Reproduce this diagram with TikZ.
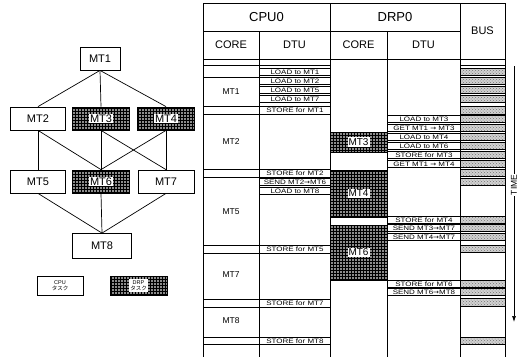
\documentclass[tikz,border=0pt]{standalone}
\usepackage{fontspec}
\setmainfont{Liberation Sans}
\newfontfamily\widefont[FakeStretch=1.25]{Liberation Sans}
\newfontfamily\arrowfont[FakeStretch=1.1]{DejaVu Sans}
\newfontfamily\jpfont{Noto Sans CJK JP}
\newcommand{\arr}{{\arrowfont →}}
\usetikzlibrary{patterns,arrows.meta}
\tikzset{
  gbox/.style={draw, line width=0.8pt, minimum height=23pt, inner sep=0pt, font=\fontsize{11}{11}\selectfont},
  cpun/.style={gbox, fill=white},
  drpn/.style={gbox, preaction={fill=black!45}, pattern=grid, pattern color=black},
  wlabel/.style={fill=white, inner sep=1pt},
  edge/.style={line width=0.7pt},
  tline/.style={line width=0.6pt},
  hdrA/.style={font=\fontsize{13}{13}\selectfont},
  hdrB/.style={font=\fontsize{11}{11}\selectfont},
  tasklbl/.style={font=\fontsize{8.5}{8.5}\selectfont},
  dtubox/.style={draw, line width=0.9pt, fill=white, inner sep=0pt, anchor=north west, minimum height=7pt, font=\widefont\fontsize{6.4}{6.4}\selectfont},
  cpud/.style={dtubox, minimum width=71pt},
  drpd/.style={dtubox, minimum width=73pt},
  stripc/.style={draw, line width=0.9pt},
  dblock/.style={draw, line width=0.6pt, preaction={fill=black!45}, pattern=grid, pattern color=black},
  busbar/.style={draw, line width=0.9pt, preaction={fill=black!18}, pattern=crosshatch dots, pattern color=black!55},
}
\begin{document}
\begin{tikzpicture}[x=1pt,y=-1pt]
\useasboundingbox (0,0) rectangle (520,357);
% ---------- task graph ----------
\node[cpun, minimum width=40pt] (MT1) at (100,58.5) {MT1};
\node[cpun, minimum width=55pt] (MT2) at (38,118.5) {MT2};
\node[drpn, minimum width=57pt] (MT3) at (101,118.5) {};
\node[wlabel, font=\fontsize{11}{11}\selectfont] (MT3t) at (MT3) {MT3};
\node[drpn, minimum width=57pt] (MT4) at (166,118.5) {};
\node[wlabel, font=\fontsize{11}{11}\selectfont] (MT4t) at (MT4) {MT4};
\node[cpun, minimum width=55pt] (MT5) at (38,181.5) {MT5};
\node[drpn, minimum width=57pt] (MT6) at (101,181.5) {};
\node[wlabel, font=\fontsize{11}{11}\selectfont] (MT6t) at (MT6) {MT6};
\node[cpun, minimum width=56pt] (MT7) at (166,181.5) {MT7};
\node[cpun, minimum width=59pt, minimum height=25pt] (MT8) at (102,246) {MT8};
\draw[edge] (MT1.south) -- (MT2.north);
\draw[edge] (MT1.south) -- (MT3.north);
\draw[edge] (MT1.south) -- (MT4.north);
\draw[edge] (MT2.south) -- (MT5.north);
\draw[edge] (MT2.south) -- (MT6.north);
\draw[edge] (MT3.south) -- (MT6.north);
\draw[edge] (MT3.south) -- (MT7.north);
\draw[edge] (MT4.south) -- (MT6.north);
\draw[edge] (MT4.south) -- (MT7.north);
\draw[edge] (MT5.south) -- (MT8.north);
\draw[edge] (MT6.south) -- (MT8.north);
\draw[edge] (MT7.south) -- (MT8.north);
% legend
\node[cpun, minimum width=46pt, minimum height=19pt, align=center, font=\fontsize{5.5}{6.5}\selectfont] (legc) at (60,285.5) {CPU\\{\jpfont タスク}};
\node[drpn, minimum width=57pt, minimum height=19pt] (legd) at (138.5,285.5) {};
\node[wlabel, align=center, font=\fontsize{5.5}{6.5}\selectfont] (legdt) at (legd) {DRP\\{\jpfont タスク}};
% ---------- time chart ----------
\draw[tline] (203,3) -- (505,3);
\draw[tline] (203,31) -- (460,31);
\draw[tline] (203,59) -- (505,59);
\draw[tline] (203,3) -- (203,357);
\draw[tline] (330,3) -- (330,357);
\draw[tline] (460,3) -- (460,357);
\draw[tline] (505,3) -- (505,357);
\draw[tline] (259,31) -- (259,357);
\draw[tline] (387,31) -- (387,357);
\node[hdrA] (cpu0) at (266.5,17) {CPU0};
\node[hdrA] (drp0) at (395,17) {DRP0};
\node[hdrB] (core1) at (231,45) {CORE};
\node[hdrB] (dtu1) at (294.5,45) {DTU};
\node[hdrB] (core2) at (358.5,45) {CORE};
\node[hdrB] (dtu2) at (423.5,45) {DTU};
\node[hdrB] (bus) at (482.5,31) {BUS};
% CPU0 core
\draw[tline] (203,65) -- (330,65);
\draw[tline] (460,65) -- (505,65);
\draw[stripc] (203,77) -- (259,77);
\draw[stripc] (203,106) rectangle (259,114);
\draw[stripc] (203,169) rectangle (259,177);
\draw[stripc] (203,245) rectangle (259,253);
\draw[stripc] (203,299) rectangle (259,307);
\draw[stripc] (203,337) rectangle (259,344);
\node[tasklbl] (c1) at (231,91.5) {MT1};
\node[tasklbl] (c2) at (231,142) {MT2};
\node[tasklbl] (c5) at (231,211.5) {MT5};
\node[tasklbl] (c7) at (231,275) {MT7};
\node[tasklbl] (c8) at (231,321) {MT8};
% CPU0 DTU
\node[cpud] (a1) at (259,68) {LOAD to MT1};
\node[cpud] (a2) at (259,77) {LOAD to MT2};
\node[cpud] (a3) at (259,86) {LOAD to MT5};
\node[cpud] (a4) at (259,95) {LOAD to MT7};
\node[cpud, minimum height=8pt] (a5) at (259,106) {STORE for MT1};
\node[cpud, minimum height=8pt] (a6) at (259,169) {STORE for MT2};
\node[cpud] (a7) at (259,178) {SEND MT2\arr MT6};
\node[cpud] (a8) at (259,187) {LOAD to MT8};
\node[cpud, minimum height=8pt] (a9) at (259,245) {STORE for MT5};
\node[cpud, minimum height=8pt] (a10) at (259,299) {STORE for MT7};
\node[cpud] (a11) at (259,337) {STORE for MT8};
% DRP0 core
\draw[dblock] (330,132) rectangle (387,152);
\node[wlabel, font=\fontsize{10}{10}\selectfont] (d3) at (358.5,142) {MT3};
\draw[stripc] (330,152) -- (387,152);
\draw[stripc] (330,170) rectangle (387,217);
\draw[dblock] (330,170) rectangle (387,217);
\node[wlabel, font=\fontsize{10}{10}\selectfont] (d4) at (358.5,193.5) {MT4};
\draw[dblock] (330,225) rectangle (387,280);
\draw[stripc] (330,225) -- (387,225);
\node[wlabel, font=\fontsize{10}{10}\selectfont] (d6) at (358.5,252.5) {MT6};
% DRP0 DTU
\node[drpd] (b1) at (387,115) {LOAD to MT3};
\node[drpd] (b2) at (387,124) {GET MT1 \arr\ MT3};
\node[drpd] (b3) at (387,133) {LOAD to MT4};
\node[drpd] (b4) at (387,142) {LOAD to MT6};
\node[drpd] (b5) at (387,151) {STORE for MT3};
\node[drpd] (b6) at (387,160) {GET MT1 \arr\ MT4};
\node[drpd] (b7) at (387,216) {STORE for MT4};
\node[drpd] (b8) at (387,224) {SEND MT3\arr MT7};
\node[drpd] (b9) at (387,233) {SEND MT4\arr MT7};
\node[drpd] (b10) at (387,280) {STORE for MT6};
\node[drpd] (b11) at (387,288) {SEND MT6\arr MT8};
% BUS
\foreach \y in {68,77,86,95,115,124,133,142,151,160,169,178,216,224,233,245,280,288,337}
  \draw[busbar] (460,\y) rectangle (505,\y+7);
\foreach \y in {106,298}
  \draw[busbar] (460,\y) rectangle (505,\y+8);
% TIME arrow
\coordinate (t0) at (514,66);
\coordinate (t1) at (514,322);
\draw[line width=0.7pt, -{Latex[length=6pt,width=4pt]}] (t0) -- (t1);
\node[rotate=90, fill=white, inner sep=1pt, font=\fontsize{8.5}{8.5}\selectfont] (time) at (514,185) {TIME};
\end{tikzpicture}
\end{document}
